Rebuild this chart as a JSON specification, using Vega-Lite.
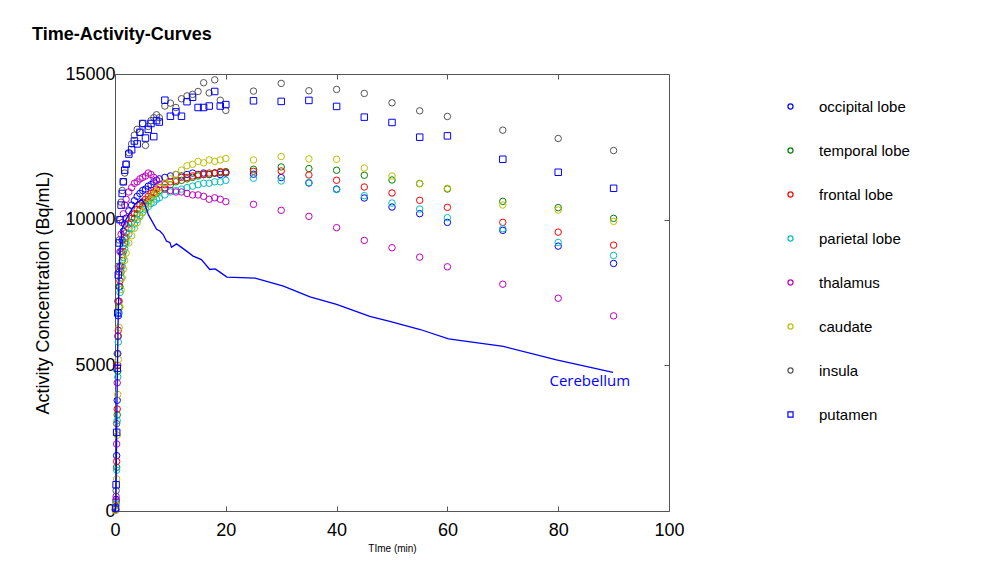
{
  "$schema": "https://vega.github.io/schema/vega-lite/v6.json",
  "width": 554,
  "height": 437,
  "autosize": {"type": "none"},
  "padding": {"left": 115, "top": 74, "right": 333, "bottom": 60},
  "background": "white",
  "config": {
    "font": "Liberation Sans",
    "view": {"stroke": "#555", "strokeWidth": 1},
    "axis": {"grid": false, "domain": false, "tickColor": "#555", "labelColor": "#000", "titleColor": "#000", "labelFont": "Liberation Sans", "titleFont": "Liberation Sans"}
  },
  "title": {"text": "Time-Activity-Curves", "anchor": "start", "frame": "group", "dx": -83, "offset": 7, "fontSize": 18, "fontWeight": "bold", "font": "Liberation Sans", "color": "#000", "baseline": "alphabetic"},
  "datasets": {
    "roi": [
      {"r":"occipital lobe","t":0.1,"v":50},{"r":"occipital lobe","t":0.2,"v":400},{"r":"occipital lobe","t":0.3,"v":1900},{"r":"occipital lobe","t":0.4,"v":3800},{"r":"occipital lobe","t":0.5,"v":5400},{"r":"occipital lobe","t":0.6,"v":6700},{"r":"occipital lobe","t":0.75,"v":7700},{"r":"occipital lobe","t":0.9,"v":8400},{"r":"occipital lobe","t":1.1,"v":8900},{"r":"occipital lobe","t":1.3,"v":9300},{"r":"occipital lobe","t":1.5,"v":9600},{"r":"occipital lobe","t":1.75,"v":9850},{"r":"occipital lobe","t":2,"v":10050},{"r":"occipital lobe","t":2.5,"v":10300},{"r":"occipital lobe","t":3,"v":10500},{"r":"occipital lobe","t":3.5,"v":10650},{"r":"occipital lobe","t":4,"v":10800},{"r":"occipital lobe","t":4.5,"v":10900},{"r":"occipital lobe","t":5,"v":11000},{"r":"occipital lobe","t":5.5,"v":11050},{"r":"occipital lobe","t":6,"v":11150},{"r":"occipital lobe","t":6.5,"v":11200},{"r":"occipital lobe","t":7,"v":11300},{"r":"occipital lobe","t":7.5,"v":11350},{"r":"occipital lobe","t":8,"v":11400},{"r":"occipital lobe","t":9,"v":11450},{"r":"occipital lobe","t":10,"v":11500},{"r":"occipital lobe","t":11,"v":11550},{"r":"occipital lobe","t":12,"v":11500},{"r":"occipital lobe","t":13,"v":11550},{"r":"occipital lobe","t":14,"v":11600},{"r":"occipital lobe","t":15,"v":11550},{"r":"occipital lobe","t":16,"v":11600},{"r":"occipital lobe","t":17,"v":11550},{"r":"occipital lobe","t":18,"v":11600},{"r":"occipital lobe","t":19,"v":11550},{"r":"occipital lobe","t":20,"v":11600},{"r":"occipital lobe","t":25,"v":11560},{"r":"occipital lobe","t":30,"v":11445},{"r":"occipital lobe","t":35,"v":11259},{"r":"occipital lobe","t":40,"v":11050},{"r":"occipital lobe","t":45,"v":10743},{"r":"occipital lobe","t":50,"v":10433},{"r":"occipital lobe","t":55,"v":10206},{"r":"occipital lobe","t":60,"v":9907},{"r":"occipital lobe","t":70,"v":9632},{"r":"occipital lobe","t":80,"v":9092},{"r":"occipital lobe","t":90,"v":8497},
      {"r":"temporal lobe","t":0.1,"v":30},{"r":"temporal lobe","t":0.2,"v":300},{"r":"temporal lobe","t":0.3,"v":1500},{"r":"temporal lobe","t":0.4,"v":3300},{"r":"temporal lobe","t":0.5,"v":4800},{"r":"temporal lobe","t":0.6,"v":6000},{"r":"temporal lobe","t":0.75,"v":7000},{"r":"temporal lobe","t":0.9,"v":7700},{"r":"temporal lobe","t":1.1,"v":8200},{"r":"temporal lobe","t":1.3,"v":8600},{"r":"temporal lobe","t":1.5,"v":8900},{"r":"temporal lobe","t":1.75,"v":9200},{"r":"temporal lobe","t":2,"v":9400},{"r":"temporal lobe","t":2.5,"v":9700},{"r":"temporal lobe","t":3,"v":9900},{"r":"temporal lobe","t":3.5,"v":10050},{"r":"temporal lobe","t":4,"v":10200},{"r":"temporal lobe","t":4.5,"v":10350},{"r":"temporal lobe","t":5,"v":10450},{"r":"temporal lobe","t":5.5,"v":10550},{"r":"temporal lobe","t":6,"v":10650},{"r":"temporal lobe","t":6.5,"v":10750},{"r":"temporal lobe","t":7,"v":10850},{"r":"temporal lobe","t":7.5,"v":10900},{"r":"temporal lobe","t":8,"v":11000},{"r":"temporal lobe","t":9,"v":11100},{"r":"temporal lobe","t":10,"v":11200},{"r":"temporal lobe","t":11,"v":11300},{"r":"temporal lobe","t":12,"v":11350},{"r":"temporal lobe","t":13,"v":11400},{"r":"temporal lobe","t":14,"v":11450},{"r":"temporal lobe","t":15,"v":11500},{"r":"temporal lobe","t":16,"v":11550},{"r":"temporal lobe","t":17,"v":11550},{"r":"temporal lobe","t":18,"v":11600},{"r":"temporal lobe","t":19,"v":11620},{"r":"temporal lobe","t":20,"v":11650},{"r":"temporal lobe","t":25,"v":11730},{"r":"temporal lobe","t":30,"v":11810},{"r":"temporal lobe","t":35,"v":11754},{"r":"temporal lobe","t":40,"v":11696},{"r":"temporal lobe","t":45,"v":11524},{"r":"temporal lobe","t":50,"v":11362},{"r":"temporal lobe","t":55,"v":11238},{"r":"temporal lobe","t":60,"v":11053},{"r":"temporal lobe","t":70,"v":10629},{"r":"temporal lobe","t":80,"v":10413},{"r":"temporal lobe","t":90,"v":10045},
      {"r":"frontal lobe","t":0.1,"v":40},{"r":"frontal lobe","t":0.2,"v":350},{"r":"frontal lobe","t":0.3,"v":1700},{"r":"frontal lobe","t":0.4,"v":3500},{"r":"frontal lobe","t":0.5,"v":5000},{"r":"frontal lobe","t":0.6,"v":6200},{"r":"frontal lobe","t":0.75,"v":7200},{"r":"frontal lobe","t":0.9,"v":7900},{"r":"frontal lobe","t":1.1,"v":8400},{"r":"frontal lobe","t":1.3,"v":8800},{"r":"frontal lobe","t":1.5,"v":9100},{"r":"frontal lobe","t":1.75,"v":9350},{"r":"frontal lobe","t":2,"v":9550},{"r":"frontal lobe","t":2.5,"v":9850},{"r":"frontal lobe","t":3,"v":10050},{"r":"frontal lobe","t":3.5,"v":10200},{"r":"frontal lobe","t":4,"v":10350},{"r":"frontal lobe","t":4.5,"v":10500},{"r":"frontal lobe","t":5,"v":10600},{"r":"frontal lobe","t":5.5,"v":10700},{"r":"frontal lobe","t":6,"v":10800},{"r":"frontal lobe","t":6.5,"v":10900},{"r":"frontal lobe","t":7,"v":10950},{"r":"frontal lobe","t":7.5,"v":11050},{"r":"frontal lobe","t":8,"v":11100},{"r":"frontal lobe","t":9,"v":11200},{"r":"frontal lobe","t":10,"v":11300},{"r":"frontal lobe","t":11,"v":11350},{"r":"frontal lobe","t":12,"v":11450},{"r":"frontal lobe","t":13,"v":11450},{"r":"frontal lobe","t":14,"v":11500},{"r":"frontal lobe","t":15,"v":11550},{"r":"frontal lobe","t":16,"v":11550},{"r":"frontal lobe","t":17,"v":11600},{"r":"frontal lobe","t":18,"v":11600},{"r":"frontal lobe","t":19,"v":11650},{"r":"frontal lobe","t":20,"v":11620},{"r":"frontal lobe","t":25,"v":11660},{"r":"frontal lobe","t":30,"v":11672},{"r":"frontal lobe","t":35,"v":11534},{"r":"frontal lobe","t":40,"v":11352},{"r":"frontal lobe","t":45,"v":11122},{"r":"frontal lobe","t":50,"v":10915},{"r":"frontal lobe","t":55,"v":10664},{"r":"frontal lobe","t":60,"v":10423},{"r":"frontal lobe","t":70,"v":9907},{"r":"frontal lobe","t":80,"v":9573},{"r":"frontal lobe","t":90,"v":9126},
      {"r":"parietal lobe","t":0.1,"v":30},{"r":"parietal lobe","t":0.2,"v":280},{"r":"parietal lobe","t":0.3,"v":1400},{"r":"parietal lobe","t":0.4,"v":3100},{"r":"parietal lobe","t":0.5,"v":4600},{"r":"parietal lobe","t":0.6,"v":5800},{"r":"parietal lobe","t":0.75,"v":6800},{"r":"parietal lobe","t":0.9,"v":7500},{"r":"parietal lobe","t":1.1,"v":8000},{"r":"parietal lobe","t":1.3,"v":8400},{"r":"parietal lobe","t":1.5,"v":8700},{"r":"parietal lobe","t":1.75,"v":9000},{"r":"parietal lobe","t":2,"v":9200},{"r":"parietal lobe","t":2.5,"v":9500},{"r":"parietal lobe","t":3,"v":9700},{"r":"parietal lobe","t":3.5,"v":9850},{"r":"parietal lobe","t":4,"v":10000},{"r":"parietal lobe","t":4.5,"v":10150},{"r":"parietal lobe","t":5,"v":10250},{"r":"parietal lobe","t":5.5,"v":10350},{"r":"parietal lobe","t":6,"v":10450},{"r":"parietal lobe","t":6.5,"v":10550},{"r":"parietal lobe","t":7,"v":10600},{"r":"parietal lobe","t":7.5,"v":10700},{"r":"parietal lobe","t":8,"v":10750},{"r":"parietal lobe","t":9,"v":10850},{"r":"parietal lobe","t":10,"v":10950},{"r":"parietal lobe","t":11,"v":11000},{"r":"parietal lobe","t":12,"v":11050},{"r":"parietal lobe","t":13,"v":11100},{"r":"parietal lobe","t":14,"v":11150},{"r":"parietal lobe","t":15,"v":11200},{"r":"parietal lobe","t":16,"v":11250},{"r":"parietal lobe","t":17,"v":11250},{"r":"parietal lobe","t":18,"v":11300},{"r":"parietal lobe","t":19,"v":11300},{"r":"parietal lobe","t":20,"v":11350},{"r":"parietal lobe","t":25,"v":11421},{"r":"parietal lobe","t":30,"v":11328},{"r":"parietal lobe","t":35,"v":11273},{"r":"parietal lobe","t":40,"v":11032},{"r":"parietal lobe","t":45,"v":10825},{"r":"parietal lobe","t":50,"v":10571},{"r":"parietal lobe","t":55,"v":10365},{"r":"parietal lobe","t":60,"v":10069},{"r":"parietal lobe","t":70,"v":9690},{"r":"parietal lobe","t":80,"v":9219},{"r":"parietal lobe","t":90,"v":8772},
      {"r":"thalamus","t":0.1,"v":60},{"r":"thalamus","t":0.2,"v":500},{"r":"thalamus","t":0.3,"v":2300},{"r":"thalamus","t":0.4,"v":4400},{"r":"thalamus","t":0.5,"v":6000},{"r":"thalamus","t":0.6,"v":7200},{"r":"thalamus","t":0.75,"v":8200},{"r":"thalamus","t":0.9,"v":8900},{"r":"thalamus","t":1.1,"v":9500},{"r":"thalamus","t":1.3,"v":9900},{"r":"thalamus","t":1.5,"v":10200},{"r":"thalamus","t":1.75,"v":10500},{"r":"thalamus","t":2,"v":10700},{"r":"thalamus","t":2.5,"v":10950},{"r":"thalamus","t":3,"v":11100},{"r":"thalamus","t":3.5,"v":11250},{"r":"thalamus","t":4,"v":11300},{"r":"thalamus","t":4.5,"v":11400},{"r":"thalamus","t":5,"v":11450},{"r":"thalamus","t":5.5,"v":11500},{"r":"thalamus","t":6,"v":11600},{"r":"thalamus","t":6.5,"v":11550},{"r":"thalamus","t":7,"v":11450},{"r":"thalamus","t":7.5,"v":11350},{"r":"thalamus","t":8,"v":11200},{"r":"thalamus","t":9,"v":11050},{"r":"thalamus","t":10,"v":11000},{"r":"thalamus","t":11,"v":10950},{"r":"thalamus","t":12,"v":10950},{"r":"thalamus","t":13,"v":10900},{"r":"thalamus","t":14,"v":10850},{"r":"thalamus","t":15,"v":10850},{"r":"thalamus","t":16,"v":10800},{"r":"thalamus","t":17,"v":10700},{"r":"thalamus","t":18,"v":10750},{"r":"thalamus","t":19,"v":10700},{"r":"thalamus","t":20,"v":10620},{"r":"thalamus","t":25,"v":10526},{"r":"thalamus","t":30,"v":10320},{"r":"thalamus","t":35,"v":10114},{"r":"thalamus","t":40,"v":9725},{"r":"thalamus","t":45,"v":9288},{"r":"thalamus","t":50,"v":9036},{"r":"thalamus","t":55,"v":8713},{"r":"thalamus","t":60,"v":8383},{"r":"thalamus","t":70,"v":7785},{"r":"thalamus","t":80,"v":7303},{"r":"thalamus","t":90,"v":6698},
      {"r":"caudate","t":0.1,"v":20},{"r":"caudate","t":0.2,"v":200},{"r":"caudate","t":0.3,"v":1100},{"r":"caudate","t":0.4,"v":2600},{"r":"caudate","t":0.5,"v":4000},{"r":"caudate","t":0.6,"v":5200},{"r":"caudate","t":0.75,"v":6300},{"r":"caudate","t":0.9,"v":7000},{"r":"caudate","t":1.1,"v":7600},{"r":"caudate","t":1.3,"v":8000},{"r":"caudate","t":1.5,"v":8300},{"r":"caudate","t":1.75,"v":8600},{"r":"caudate","t":2,"v":8850},{"r":"caudate","t":2.5,"v":9200},{"r":"caudate","t":3,"v":9450},{"r":"caudate","t":3.5,"v":9700},{"r":"caudate","t":4,"v":9900},{"r":"caudate","t":4.5,"v":10100},{"r":"caudate","t":5,"v":10250},{"r":"caudate","t":5.5,"v":10400},{"r":"caudate","t":6,"v":10550},{"r":"caudate","t":6.5,"v":10700},{"r":"caudate","t":7,"v":10850},{"r":"caudate","t":7.5,"v":10950},{"r":"caudate","t":8,"v":11100},{"r":"caudate","t":9,"v":11250},{"r":"caudate","t":10,"v":11400},{"r":"caudate","t":11,"v":11550},{"r":"caudate","t":12,"v":11700},{"r":"caudate","t":13,"v":11850},{"r":"caudate","t":14,"v":11900},{"r":"caudate","t":15,"v":12000},{"r":"caudate","t":16,"v":11950},{"r":"caudate","t":17,"v":12050},{"r":"caudate","t":18,"v":12000},{"r":"caudate","t":19,"v":12050},{"r":"caudate","t":20,"v":12100},{"r":"caudate","t":25,"v":12050},{"r":"caudate","t":30,"v":12167},{"r":"caudate","t":35,"v":12085},{"r":"caudate","t":40,"v":12074},{"r":"caudate","t":45,"v":11775},{"r":"caudate","t":50,"v":11500},{"r":"caudate","t":55,"v":11238},{"r":"caudate","t":60,"v":11077},{"r":"caudate","t":70,"v":10503},{"r":"caudate","t":80,"v":10330},{"r":"caudate","t":90,"v":9942},
      {"r":"insula","t":0.1,"v":80},{"r":"insula","t":0.2,"v":700},{"r":"insula","t":0.3,"v":3000},{"r":"insula","t":0.4,"v":5400},{"r":"insula","t":0.5,"v":7200},{"r":"insula","t":0.6,"v":8400},{"r":"insula","t":0.75,"v":9300},{"r":"insula","t":0.9,"v":10000},{"r":"insula","t":1.1,"v":10600},{"r":"insula","t":1.3,"v":11000},{"r":"insula","t":1.5,"v":11300},{"r":"insula","t":1.75,"v":11600},{"r":"insula","t":2,"v":11900},{"r":"insula","t":2.5,"v":12300},{"r":"insula","t":3,"v":12600},{"r":"insula","t":3.5,"v":12900},{"r":"insula","t":4,"v":13100},{"r":"insula","t":4.5,"v":13000},{"r":"insula","t":5,"v":13300},{"r":"insula","t":5.5,"v":12550},{"r":"insula","t":6,"v":13200},{"r":"insula","t":6.5,"v":13400},{"r":"insula","t":7,"v":13500},{"r":"insula","t":7.5,"v":13600},{"r":"insula","t":8,"v":13500},{"r":"insula","t":9,"v":13900},{"r":"insula","t":10,"v":14000},{"r":"insula","t":11,"v":13850},{"r":"insula","t":12,"v":14150},{"r":"insula","t":13,"v":14250},{"r":"insula","t":14,"v":14300},{"r":"insula","t":15,"v":14400},{"r":"insula","t":16,"v":14700},{"r":"insula","t":17,"v":14350},{"r":"insula","t":18,"v":14800},{"r":"insula","t":19,"v":14100},{"r":"insula","t":20,"v":13750},{"r":"insula","t":25,"v":14413},{"r":"insula","t":30,"v":14678},{"r":"insula","t":35,"v":14425},{"r":"insula","t":40,"v":14470},{"r":"insula","t":45,"v":14333},{"r":"insula","t":50,"v":14011},{"r":"insula","t":55,"v":13736},{"r":"insula","t":60,"v":13543},{"r":"insula","t":70,"v":13072},{"r":"insula","t":80,"v":12786},{"r":"insula","t":90,"v":12373},
      {"r":"putamen","t":0.1,"v":100},{"r":"putamen","t":0.2,"v":900},{"r":"putamen","t":0.3,"v":2700},{"r":"putamen","t":0.4,"v":4900},{"r":"putamen","t":0.5,"v":6800},{"r":"putamen","t":0.6,"v":8100},{"r":"putamen","t":0.75,"v":9200},{"r":"putamen","t":0.9,"v":10000},{"r":"putamen","t":1.1,"v":10500},{"r":"putamen","t":1.3,"v":10900},{"r":"putamen","t":1.5,"v":11300},{"r":"putamen","t":1.75,"v":11700},{"r":"putamen","t":2,"v":11900},{"r":"putamen","t":2.5,"v":12250},{"r":"putamen","t":3,"v":12400},{"r":"putamen","t":3.5,"v":12700},{"r":"putamen","t":4,"v":12600},{"r":"putamen","t":4.5,"v":13000},{"r":"putamen","t":5,"v":13300},{"r":"putamen","t":5.5,"v":12800},{"r":"putamen","t":6,"v":13100},{"r":"putamen","t":6.5,"v":13300},{"r":"putamen","t":7,"v":12850},{"r":"putamen","t":7.5,"v":13400},{"r":"putamen","t":8,"v":13350},{"r":"putamen","t":9,"v":14100},{"r":"putamen","t":10,"v":13550},{"r":"putamen","t":11,"v":13700},{"r":"putamen","t":12,"v":13550},{"r":"putamen","t":13,"v":14050},{"r":"putamen","t":14,"v":14200},{"r":"putamen","t":15,"v":13850},{"r":"putamen","t":16,"v":13850},{"r":"putamen","t":17,"v":13900},{"r":"putamen","t":18,"v":14400},{"r":"putamen","t":19,"v":13900},{"r":"putamen","t":20,"v":13950},{"r":"putamen","t":25,"v":14080},{"r":"putamen","t":30,"v":14059},{"r":"putamen","t":35,"v":14093},{"r":"putamen","t":40,"v":13887},{"r":"putamen","t":45,"v":13519},{"r":"putamen","t":50,"v":13336},{"r":"putamen","t":55,"v":12831},{"r":"putamen","t":60,"v":12876},{"r":"putamen","t":70,"v":12074},{"r":"putamen","t":80,"v":11627},{"r":"putamen","t":90,"v":11077}
    ],
    "cer": [
      {"t":0.1,"v":0},{"t":0.18,"v":380},{"t":0.27,"v":2100},{"t":0.36,"v":3820},{"t":0.54,"v":6230},{"t":0.72,"v":7950},{"t":0.9,"v":8980},{"t":1.26,"v":9670},{"t":2.0,"v":10010},{"t":2.7,"v":10250},{"t":3.6,"v":10530},{"t":4.8,"v":10700},{"t":5.4,"v":10530},{"t":6.0,"v":10180},{"t":6.7,"v":9940},{"t":7.5,"v":9670},{"t":8.1,"v":9610},{"t":8.7,"v":9490},{"t":9.3,"v":9260},{"t":9.9,"v":9220},{"t":10.2,"v":9050},{"t":11.1,"v":9170},{"t":12.5,"v":8980},{"t":14.1,"v":8750},{"t":15.6,"v":8630},{"t":17.1,"v":8290},{"t":18.1,"v":8310},{"t":19,"v":8190},{"t":20.2,"v":8030},{"t":25.3,"v":7990},{"t":30.4,"v":7720},{"t":35.2,"v":7350},{"t":40,"v":7090},{"t":46,"v":6680},{"t":49.6,"v":6510},{"t":55.1,"v":6230},{"t":60.2,"v":5910},{"t":70.1,"v":5650},{"t":79.7,"v":5190},{"t":89.9,"v":4760}
    ],
    "lab": [{"label": "Cerebellum", "t": 85.7, "v": 4470}]
  },
  "resolve": {"axis": {"x": "independent", "y": "independent"}},
  "layer": [
    {
      "data": {"name": "roi"},
      "mark": {"type": "point", "filled": false, "size": 42, "strokeWidth": 1, "opacity": 1},
      "encoding": {
        "x": {"field": "t", "type": "quantitative", "scale": {"domain": [0, 100], "nice": false},
              "axis": {"orient": "bottom", "values": [0, 20, 40, 60, 80, 100], "tickSize": -5, "labelFontSize": 18, "labelPadding": 15, "labelFlush": false, "labelOverlap": false, "title": "TIme (min)", "titleFontSize": 10, "titleFontWeight": "normal", "titlePadding": 4}},
        "y": {"field": "v", "type": "quantitative", "scale": {"domain": [0, 15000], "nice": false},
              "axis": {"orient": "left", "values": [0, 5000, 10000, 15000], "format": "d", "tickSize": -5, "labelFontSize": 18, "labelPadding": 5, "labelFlush": false, "labelOverlap": false, "title": "Activity Concentration (Bq/mL)", "titleFontSize": 18, "titleFontWeight": "normal", "titlePadding": 12}},
        "color": {"field": "r", "type": "nominal",
                  "scale": {"domain": ["occipital lobe", "temporal lobe", "frontal lobe", "parietal lobe", "thalamus", "caudate", "insula", "putamen"],
                            "range": ["#0000ff", "#008000", "#ff0000", "#00bfbf", "#bf00bf", "#bfbf00", "#555555", "#0000ff"]},
                  "legend": {"orient": "none", "legendX": 668, "legendY": 25, "title": null, "labelFontSize": 15, "labelFont": "Liberation Sans", "labelColor": "#000", "symbolSize": 26, "symbolStrokeWidth": 1.2, "rowPadding": 28, "labelOffset": 21, "padding": 0}},
        "shape": {"field": "r", "type": "nominal",
                  "scale": {"domain": ["occipital lobe", "temporal lobe", "frontal lobe", "parietal lobe", "thalamus", "caudate", "insula", "putamen"],
                            "range": ["circle", "circle", "circle", "circle", "circle", "circle", "circle", "square"]},
                  "legend": {"orient": "none", "legendX": 668, "legendY": 25, "title": null, "labelFontSize": 15, "labelFont": "Liberation Sans", "labelColor": "#000", "symbolSize": 26, "symbolStrokeWidth": 1.2, "rowPadding": 28, "labelOffset": 21, "padding": 0}}
      }
    },
    {
      "data": {"name": "cer"},
      "mark": {"type": "line", "color": "#0000ff", "strokeWidth": 1.3},
      "encoding": {
        "x": {"field": "t", "type": "quantitative", "scale": {"domain": [0, 100], "nice": false},
              "axis": {"orient": "top", "values": [20, 40, 60, 80], "tickSize": -5, "labels": false, "title": null}},
        "y": {"field": "v", "type": "quantitative", "scale": {"domain": [0, 15000], "nice": false},
              "axis": {"orient": "right", "values": [5000, 10000], "tickSize": -5, "labels": false, "title": null}}
      }
    },
    {
      "data": {"name": "lab"},
      "mark": {"type": "text", "color": "#0000ff", "font": "Open Sans", "fontSize": 15, "align": "center", "baseline": "middle"},
      "encoding": {
        "x": {"field": "t", "type": "quantitative", "axis": null},
        "y": {"field": "v", "type": "quantitative", "axis": null},
        "text": {"field": "label"}
      }
    }
  ]
}
